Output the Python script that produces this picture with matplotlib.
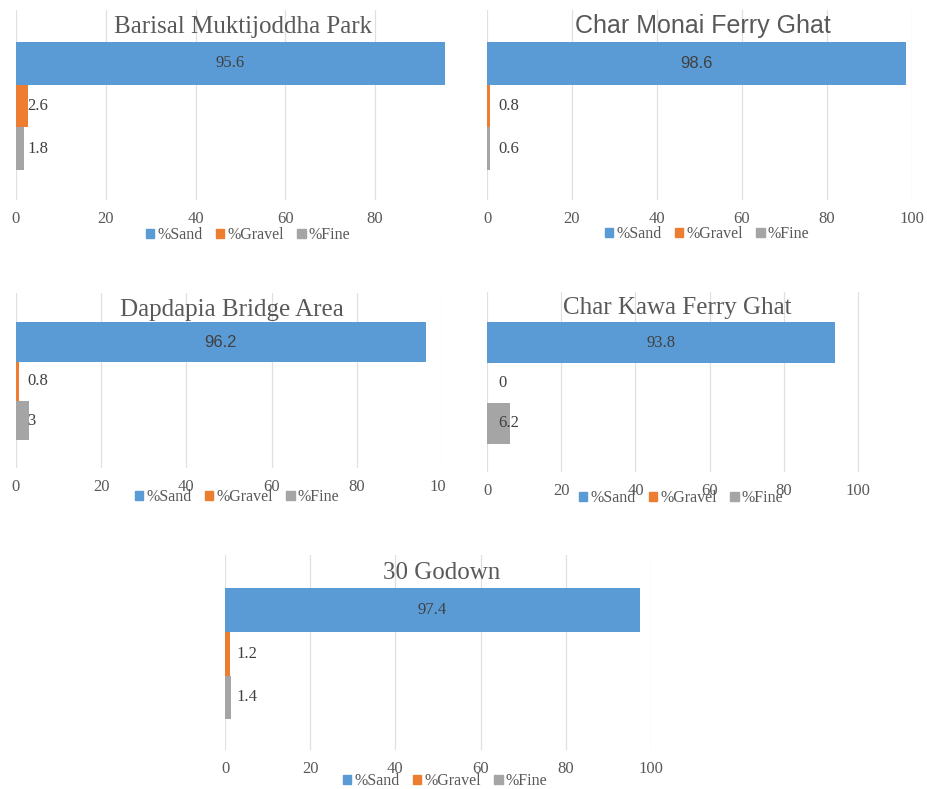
import matplotlib.pyplot as plt
from matplotlib.patches import Patch
from matplotlib.transforms import Bbox, TransformedBbox

# --- data ----------------------------------------------------------------
sites = ["Barisal Muktijoddha Park", "Char Monai Ferry Ghat", "Dapdapia Bridge Area",
         "Char Kawa Ferry Ghat", "30 Godown"]
fractions = ["%Sand", "%Gravel", "%Fine"]
sand = [95.6, 98.6, 96.2, 93.8, 97.4]
gravel = [2.6, 0.8, 0.8, 0.0, 1.2]
fine = [1.8, 0.6, 3.0, 6.2, 1.4]

# --- layout (pixels of the 927x789 canvas) -------------------------------
W, H = 927, 789
COLORS = ["#5B9BD5", "#ED7D31", "#A5A5A5"]
GRID = "#E0E0E0"
TXT = "#595959"
SERIF = ["Liberation Serif", "DejaVu Serif"]
SANS = ["Liberation Sans", "DejaVu Sans"]

# plot area: left, top, right, bottom
boxes = [(16, 10, 456, 200), (487, 10, 912, 200), (16, 293, 442, 468),
         (487, 292, 925, 472), (225, 555, 651, 750)]
x_max = [98, 100, 100, 118, 100]
title_pos = [(243, 27), (703, 26), (232, 310), (677, 308), (442, 573)]
legend_pos = [(248, 235), (707, 234), (237, 497), (681, 498), (445, 781)]
title_sans = [False, True, False, False, False]
value_sans = [False, True, True, False, False]
clip_right = [None, None, 445, None, None]

fig = plt.figure(figsize=(W / 100, H / 100), dpi=100)
fig.patch.set_facecolor("white")

for i, site in enumerate(sites):
    l, t, r, b = boxes[i]
    ax = fig.add_axes([l / W, 1 - b / H, (r - l) / W, (b - t) / H])
    vals = [sand[i], gravel[i], fine[i]]
    ax.barh(range(3), vals, height=1.0, color=COLORS, zorder=2)
    ax.set_xlim(0, x_max[i])
    ax.set_ylim(3.2, -1.25)
    ax.set_xticks(range(0, int(min(x_max[i], 100)) + 1, 20))
    ax.set_yticks([])
    ax.grid(axis="x", color=GRID, lw=0.9, zorder=0)
    ax.set_axisbelow(True)
    for s in ax.spines.values():
        s.set_visible(False)
    ax.tick_params(axis="x", length=0, pad=8, labelsize=12, labelcolor=TXT)
    for lbl in ax.get_xticklabels():
        lbl.set_fontfamily(SERIF)
    if clip_right[i] is not None:
        clip = TransformedBbox(Bbox([[0, 0], [clip_right[i] / W, 1]]), fig.transFigure)
        for tk in ax.xaxis.get_major_ticks():
            tk.label1.set_clip_box(clip)
            tk.label1.set_clip_on(True)

    # value labels
    ax.text(sand[i] / 2, 0, f"{sand[i]:g}", ha="center", va="center", fontsize=12,
            color="#404040", family=SANS if value_sans[i] else SERIF, zorder=3)
    for k, v in ((1, gravel[i]), (2, fine[i])):
        ax.annotate(f"{v:g}", xy=(0, k), xytext=(8, 0), textcoords="offset points",
                    ha="left", va="center", fontsize=12, color="#404040",
                    family=SERIF, zorder=3)

    tx, ty = title_pos[i]
    fig.text(tx / W, 1 - ty / H, site, ha="center", va="center", fontsize=18,
             color=TXT, family=SANS if title_sans[i] else SERIF)

    lx, ly = legend_pos[i]
    handles = [Patch(color=c, label=n) for c, n in zip(COLORS, fractions)]
    fig.legend(handles=handles, loc="center", bbox_to_anchor=(lx / W, 1 - ly / H),
               ncol=3, frameon=False, handlelength=0.55, handleheight=0.55,
               handletextpad=0.2, columnspacing=0.8, borderpad=0,
               prop={"family": SERIF, "size": 11.5}, labelcolor=TXT)

fig.savefig("out.png", dpi=100)
